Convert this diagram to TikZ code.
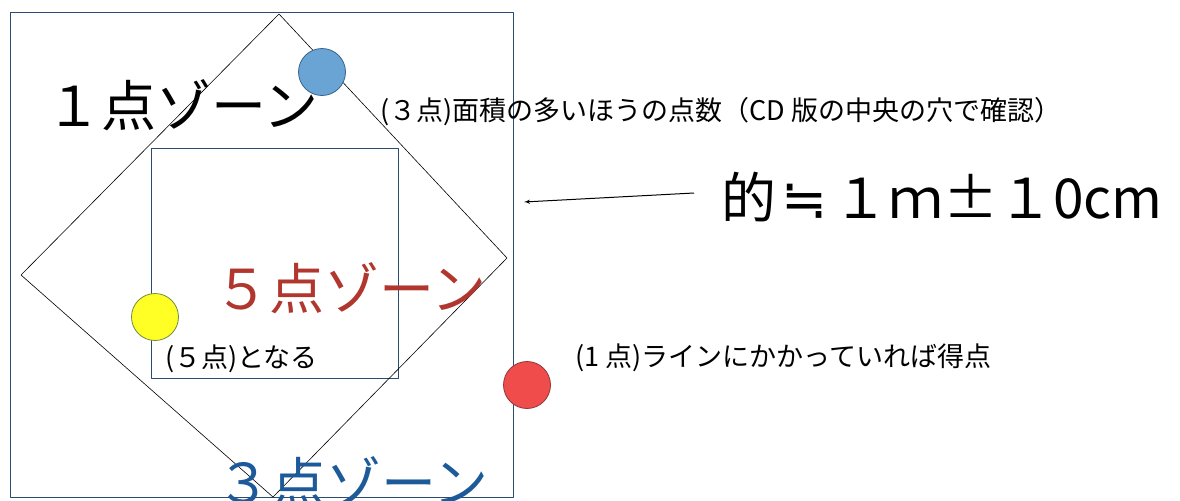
\documentclass[tikz,border=0pt]{standalone}
\usepackage{fontspec}
\setmainfont{Noto Sans CJK JP}
\newfontfamily\symfont{DejaVu Sans}
\usepackage[x11names, rgb]{xcolor}
\usepackage{tikz}
\usetikzlibrary{arrows,shapes}

\definecolor{frame}{HTML}{2B4C6E}
\definecolor{zonered}{HTML}{B0362E}
\definecolor{zoneblue}{HTML}{1D5A9A}

\begin{document}
\begin{tikzpicture}[>=latex',join=bevel,]
\tikzstyle{zone}=[anchor=west,inner sep=0pt,font=\fontsize{55bp}{60bp}\selectfont]%
\tikzstyle{note}=[anchor=west,inner sep=0pt,font=\fontsize{27bp}{30bp}\selectfont]%
\tikzstyle{ball}=[circle,inner sep=0pt,minimum size=47bp,line width=0.8pt]%
  \useasboundingbox (0bp,0bp) rectangle (1180bp,-501bp);

  % target
  \draw [frame,line width=0.8pt] (10bp,-12bp) rectangle (513bp,-497bp);
  \draw [frame,line width=0.8pt] (151bp,-148bp) rectangle (398bp,-378bp);
  \draw [black,line width=0.6pt] (279bp,-14bp) -- (507bp,-258bp) -- (273bp,-497bp) -- (21bp,-275bp) -- cycle;

  \node (one) at (46bp,-105bp) [zone] {１点ゾーン};
  \node (five) at (214bp,-288bp) [zone,text=zonered] {５点ゾーン};
  \node (three) at (216bp,-482bp) [zone,text=zoneblue] {３点ゾーン};

  \node (blue) at (322bp,-72bp) [ball,draw=SteelBlue4,fill=SteelBlue3!85!white] {};
  \node (yellow) at (155bp,-317bp) [ball,draw=DarkOliveGreen4,fill=yellow!85!white] {};
  \node (red) at (527bp,-385bp) [ball,draw=IndianRed4,fill=Firebrick2!85!white] {};

  \node (bluenote) at (380bp,-112bp) [note] {(３点)面積の多いほうの点数（CD 版の中央の穴で確認）};
  \node (yellownote) at (165bp,-359bp) [note] {(５点)となる};
  \node (rednote) at (575bp,-358bp) [note] {(1 点)ラインにかかっていれば得点};

  \node (size) at (721bp,-197bp) [zone] {的\hspace{0.1em}{\symfont ≒}\hspace{0.1em}１ｍ±１0cm};
  \coordinate (tail) at (694bp,-193bp);
  \coordinate (tip) at (524bp,-202bp);
  \draw [->,line width=1pt] (tail) to (tip);

\end{tikzpicture}
\end{document}
